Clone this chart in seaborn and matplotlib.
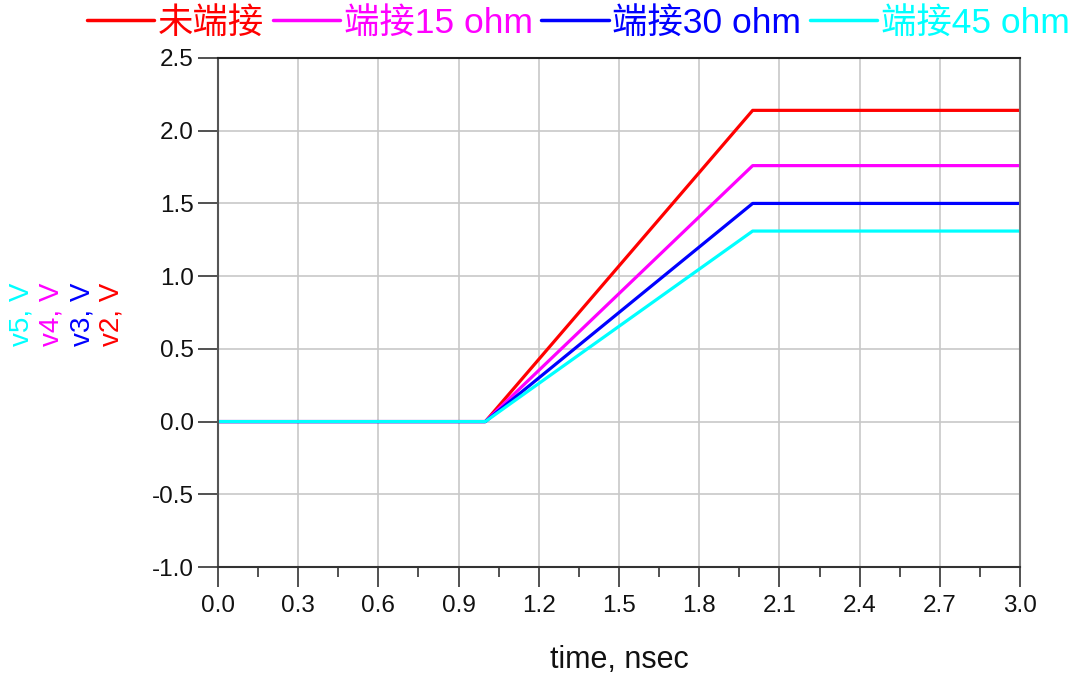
import numpy as np
import pandas as pd
import matplotlib
matplotlib.use("Agg")
import matplotlib.pyplot as plt
from matplotlib.ticker import MultipleLocator
import seaborn as sns

# ---- data ----
time_ns = [0.0, 1.0, 2.0, 3.0]
v2 = [0.0, 0.0, 2.14, 2.14]   # 未端接
v4 = [0.0, 0.0, 1.76, 1.76]   # 端接15 ohm
v3 = [0.0, 0.0, 1.50, 1.50]   # 端接30 ohm
v5 = [0.0, 0.0, 1.31, 1.31]   # 端接45 ohm
series_names = ["未端接", "端接15 ohm", "端接30 ohm", "端接45 ohm"]
series_colors = ["#ff0000", "#ff00ff", "#0000ff", "#00ffff"]
xticks = [0.0, 0.3, 0.6, 0.9, 1.2, 1.5, 1.8, 2.1, 2.4, 2.7, 3.0]
yticks = [-1.0, -0.5, 0.0, 0.5, 1.0, 1.5, 2.0, 2.5]

df = pd.concat([
    pd.DataFrame({"t": time_ns, "v": vals, "series": name})
    for name, vals in zip(series_names, [v2, v4, v3, v5])
])

sns.set_style("white")
plt.rcParams["font.family"] = ["Liberation Sans", "Noto Sans CJK SC", "DejaVu Sans"]

fig = plt.figure(figsize=(10.75, 6.77), dpi=100)
ax = fig.add_axes([218/1075, 110/677, 802/1075, 509/677])

sns.lineplot(data=df, x="t", y="v", hue="series", hue_order=series_names,
             palette=dict(zip(series_names, series_colors)), linewidth=2.3,
             legend=False, ax=ax, estimator=None, sort=False)

ax.set_xlim(0, 3.0)
ax.set_ylim(-1.0, 2.5)
ax.set_xticks(xticks)
ax.set_xticklabels([f"{t:.1f}" for t in xticks])
ax.xaxis.set_minor_locator(MultipleLocator(0.15))
ax.set_yticks(yticks)
ax.set_yticklabels([f"{t:.1f}" for t in yticks])
ax.grid(True, which="major", color="#c8c8c8", linewidth=1.2)
ax.set_axisbelow(True)

ax.tick_params(axis="x", which="major", direction="out", length=14.5, width=1.2,
               color="#333333", labelsize=17.5, pad=6, bottom=True, labelcolor="#111111")
ax.tick_params(axis="x", which="minor", direction="out", length=7, width=1.2,
               color="#333333", bottom=True)
ax.tick_params(axis="y", which="major", direction="out", length=14.5, width=1.2,
               color="#333333", labelsize=17.5, pad=3, left=True, labelcolor="#111111")
for side, col in zip(["left", "bottom", "top", "right"],
                     ["#555555", "#333333", "#222222", "#777777"]):
    ax.spines[side].set_visible(True)
    ax.spines[side].set_color(col)
    ax.spines[side].set_linewidth(1.5)

ax.set_xlabel("time, nsec", fontsize=22, labelpad=20, color="#111111")
ax.set_ylabel("")

# stacked coloured y-labels
ylab_x = [21, 52, 83, 111]
for txt, col, xp in zip(["v5, V", "v4, V", "v3, V", "v2, V"],
                        ["#00ffff", "#ff00ff", "#0000ff", "#ff0000"], ylab_x):
    fig.text(xp/1075, 1 - 314/677, txt, rotation=90, ha="center", va="center",
             fontsize=20, color=col)

handles = ax.get_lines()[:4]
leg = fig.legend(handles, series_names, loc="center", bbox_to_anchor=(0.538, 1 - 23/677),
                 ncol=4, frameon=False, fontsize=25.5, handlelength=1.9,
                 handletextpad=0.1, columnspacing=0.25, borderaxespad=0)
for text, col in zip(leg.get_texts(), series_colors):
    text.set_color(col)
for lh in leg.get_lines():
    lh.set_linewidth(2.5)

fig.savefig("out.png", dpi=100)
